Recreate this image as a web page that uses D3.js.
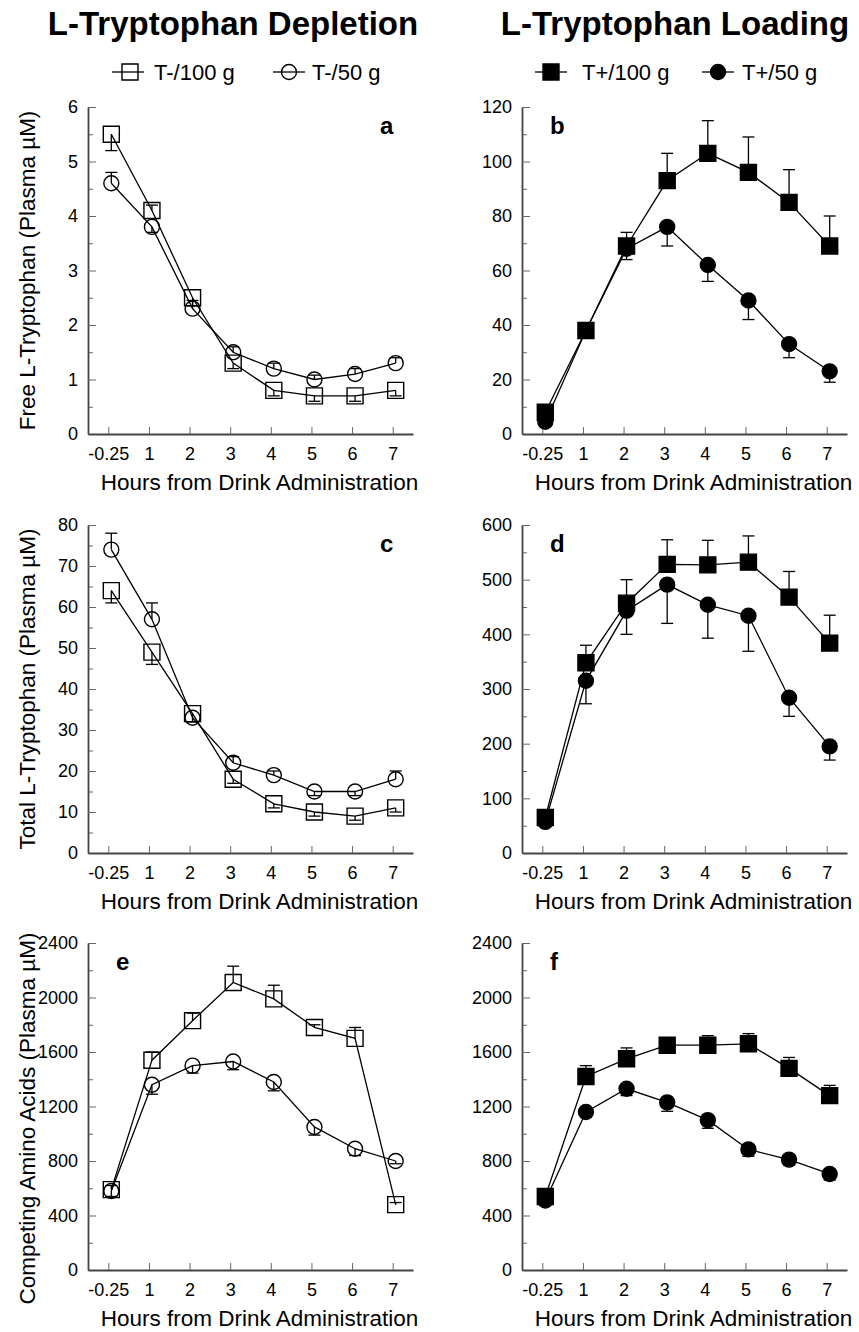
<!DOCTYPE html>
<html>
<head>
<meta charset="utf-8">
<script src="https://cdn.jsdelivr.net/npm/d3@7"></script>
<style>
  body { margin: 0; background: #fff; }
  text { font-family: 'Liberation Sans', Arial, sans-serif; fill: #000; }
</style>
</head>
<body>
<div id="chart"></div>
<script>
const hours = ['-0.25', '1', '2', '3', '4', '5', '6', '7']

// free L-tryptophan (plasma uM); err: signed, + = bar up, - = bar down
const freeT100 = [5.5, 4.1, 2.5, 1.3, 0.8, 0.7, 0.7, 0.8]
const freeT100Err = [-0.3, 0.1, -0.15, -0.1, -0.1, -0.1, -0.1, -0.1]
const freeT50 = [4.6, 3.8, 2.3, 1.5, 1.2, 1.0, 1.1, 1.3]
const freeT50Err = [0.2, -0.1, 0.15, 0.1, 0.1, 0.08, 0.1, 0.1]
const freeTp100 = [8, 38, 69, 93, 103, 96, 85, 69]
const freeTp100Err = [-1, 2.5, 5, 10, 12, 13, 12, 11]
const freeTp50 = [4.5, 38, 68, 76, 62, 49, 33, 23]
const freeTp50Err = [2.5, -2, -4, -7, -6, -7, -5, -4]

// total L-tryptophan
const totalT100 = [64, 49, 34, 18, 12, 10, 9, 11]
const totalT100Err = [-3, -3, -2, -1, -1, -1, -1, -1]
const totalT50 = [74, 57, 33, 22, 19, 15, 15, 18]
const totalT50Err = [4, 4, -1, 1.5, 1, -1, -1, 2]
const totalTp100 = [65, 348, 457, 528, 527, 532, 468, 384]
const totalTp100Err = [-8, 32, 43, 45, 45, 48, 47, 51]
const totalTp50 = [57, 315, 443, 491, 454, 434, 284, 195]
const totalTp50Err = [-5, -42, -43, -71, -61, -65, -34, -25]

// competing amino acids
const caaT100 = [590, 1540, 1830, 2110, 1990, 1780, 1700, 480]
const caaT100Err = [30, 60, 55, 120, 100, 20, 80, 15]
const caaT50 = [580, 1360, 1500, 1530, 1380, 1050, 890, 800]
const caaT50Err = [-40, -70, -55, -60, -65, -60, -50, -20]
const caaTp100 = [540, 1420, 1550, 1650, 1650, 1660, 1480, 1280]
const caaTp100Err = [20, 80, 80, 55, 70, 75, 80, 75]
const caaTp50 = [510, 1160, 1330, 1230, 1100, 885, 810, 705]
const caaTp50Err = [-20, -40, -50, -65, -60, -50, -40, -45]

const yTitles = ['Free L-Tryptophan (Plasma µM)', 'Total L-Tryptophan (Plasma µM)', 'Competing Amino Acids (Plasma µM)']
const xTitle = 'Hours from Drink Administration'

const width = 859
const height = 1332

const cols = [{ x0: 88, x1: 413 }, { x0: 522, x1: 847 }]
const rows = [{ y0: 107, y1: 434 }, { y0: 525, y1: 853 }, { y0: 943, y1: 1270 }]

const panels = [
  { col: 0, row: 0, letter: 'a', right: true, max: 6, step: 1, filled: false,
    sq: freeT100, sqErr: freeT100Err, ci: freeT50, ciErr: freeT50Err },
  { col: 1, row: 0, letter: 'b', right: false, max: 120, step: 20, filled: true,
    sq: freeTp100, sqErr: freeTp100Err, ci: freeTp50, ciErr: freeTp50Err },
  { col: 0, row: 1, letter: 'c', right: true, max: 80, step: 10, filled: false,
    sq: totalT100, sqErr: totalT100Err, ci: totalT50, ciErr: totalT50Err },
  { col: 1, row: 1, letter: 'd', right: false, max: 600, step: 100, filled: true,
    sq: totalTp100, sqErr: totalTp100Err, ci: totalTp50, ciErr: totalTp50Err },
  { col: 0, row: 2, letter: 'e', right: false, max: 2400, step: 400, filled: false,
    sq: caaT100, sqErr: caaT100Err, ci: caaT50, ciErr: caaT50Err },
  { col: 1, row: 2, letter: 'f', right: false, max: 2400, step: 400, filled: true,
    sq: caaTp100, sqErr: caaTp100Err, ci: caaTp50, ciErr: caaTp50Err }
]

const svg = d3
  .select('#chart')
  .append('svg')
  .attr('width', width)
  .attr('height', height)

const symSquare = d3.symbol().type(d3.symbolSquare).size(16 * 16)
const symCircle = d3.symbol().type(d3.symbolCircle).size(Math.PI * 7.5 * 7.5)

// column titles + legends
const heads = [
  { title: 'L-Tryptophan Depletion', cx: 233, filled: false, items: [
    { label: 'T-/100 g', sym: symSquare, lx: 112, mx: 130, tx: 154 },
    { label: 'T-/50 g', sym: symCircle, lx: 273, mx: 289, tx: 312 }] },
  { title: 'L-Tryptophan Loading', cx: 675, filled: true, items: [
    { label: 'T+/100 g', sym: symSquare, lx: 535, mx: 551, tx: 582 },
    { label: 'T+/50 g', sym: symCircle, lx: 702, mx: 718, tx: 742 }] }
]

heads.forEach(h => {
  svg.append('text')
    .attr('x', h.cx)
    .attr('y', 35)
    .attr('text-anchor', 'middle')
    .style('font-size', '33px')
    .style('font-weight', 'bold')
    .text(h.title)

  h.items.forEach(it => {
    svg.append('line')
      .attr('x1', it.lx).attr('x2', it.lx + 32)
      .attr('y1', 72).attr('y2', 72)
      .attr('stroke', '#000').attr('stroke-width', 1.3)
    svg.append('path')
      .attr('d', it.sym())
      .attr('transform', `translate(${it.mx},72)`)
      .attr('fill', h.filled ? '#000' : 'none')
      .attr('stroke', '#000').attr('stroke-width', 1.4)
    svg.append('text')
      .attr('x', it.tx)
      .attr('y', 80)
      .style('font-size', '22px')
      .text(it.label)
  })
})

panels.forEach(p => {
  const c = cols[p.col]
  const r = rows[p.row]
  const g = svg.append('g')

  const x = d3.scalePoint().domain(hours).range([c.x0, c.x1]).padding(0.5)
  // markers sit a hair right of the tick marks in the original
  const xm = x.copy().range([c.x0 + 3, c.x1 + 3])
  const y = d3.scaleLinear().domain([0, p.max]).range([r.y1, r.y0])

  const major = d3.range(0, p.max + p.step / 2, p.step)
  const minor = d3.range(p.step / 2, p.max, p.step)

  // minor y ticks
  g.append('g')
    .attr('transform', `translate(${c.x0},0)`)
    .call(d3.axisLeft(y).tickValues(minor).tickSize(-5).tickFormat(''))
    .call(s => s.select('.domain').remove())
    .call(s => s.selectAll('line').attr('stroke', '#666'))

  const yAxis = g.append('g')
    .attr('transform', `translate(${c.x0},0)`)
    .call(d3.axisLeft(y).tickValues(major).tickSize(-8).tickSizeOuter(0).tickPadding(10).tickFormat(d3.format('d')))
  yAxis.select('.domain').attr('stroke', '#444').attr('stroke-width', 1.8)
  yAxis.selectAll('line').attr('stroke', '#666')
  yAxis.selectAll('text')
    .style('font-size', '18px')
    .style('font-family', "'Liberation Sans', Arial, sans-serif")
    .attr('fill', '#000')

  const xAxis = g.append('g')
    .attr('transform', `translate(0,${r.y1})`)
    .call(d3.axisBottom(x).tickSize(-7).tickSizeOuter(0).tickPadding(13))
  xAxis.select('.domain').attr('stroke', '#444').attr('stroke-width', 1.8)
  xAxis.selectAll('line').attr('stroke', '#666')
  xAxis.selectAll('text')
    .style('font-size', '18px')
    .style('font-family', "'Liberation Sans', Arial, sans-serif")
    .attr('fill', '#000')

  g.append('text')
    .attr('x', (c.x0 + c.x1) / 2 + 9)
    .attr('y', r.y1 + 56)
    .attr('text-anchor', 'middle')
    .style('font-size', '22.5px')
    .text(xTitle)

  if (p.col === 0) {
    const cy = (r.y0 + r.y1) / 2 + (p.row === 2 ? 12 : 0)
    g.append('text')
      .attr('transform', `translate(27,${cy}) rotate(-90)`)
      .attr('text-anchor', 'middle')
      .attr('dy', '0.35em')
      .style('font-size', '22.5px')
      .text(yTitles[p.row])
  }

  g.append('text')
    .attr('x', p.right ? c.x1 - 33 : c.x0 + 28)
    .attr('y', r.y0 + 27)
    .style('font-size', '24px')
    .style('font-weight', 'bold')
    .text(p.letter)

  const series = [
    { vals: p.sq, errs: p.sqErr, sym: symSquare },
    { vals: p.ci, errs: p.ciErr, sym: symCircle }
  ]

  const line = d3.line()
    .x((d, i) => xm(hours[i]))
    .y(d => y(d))

  series.forEach(s => {
    g.append('path')
      .datum(s.vals)
      .attr('d', line)
      .attr('fill', 'none')
      .attr('stroke', '#000')
      .attr('stroke-width', 1.3)

    const eb = g.append('g')
      .selectAll('g')
      .data(s.vals.map((v, i) => ({ v, e: s.errs[i], h: hours[i] })))
      .join('g')
    eb.append('line')
      .attr('x1', d => xm(d.h)).attr('x2', d => xm(d.h))
      .attr('y1', d => y(d.v)).attr('y2', d => y(d.v + d.e))
      .attr('stroke', '#000').attr('stroke-width', 1.3)
    eb.append('line')
      .attr('x1', d => xm(d.h) - 6).attr('x2', d => xm(d.h) + 6)
      .attr('y1', d => y(d.v + d.e)).attr('y2', d => y(d.v + d.e))
      .attr('stroke', '#000').attr('stroke-width', 1.3)
  })

  series.forEach(s => {
    g.append('g')
      .selectAll('path')
      .data(s.vals)
      .join('path')
      .attr('d', s.sym())
      .attr('transform', (d, i) => `translate(${xm(hours[i])},${y(d)})`)
      .attr('fill', p.filled ? '#000' : 'none')
      .attr('stroke', '#000')
      .attr('stroke-width', 1.4)
  })
})
</script>
</body>
</html>
